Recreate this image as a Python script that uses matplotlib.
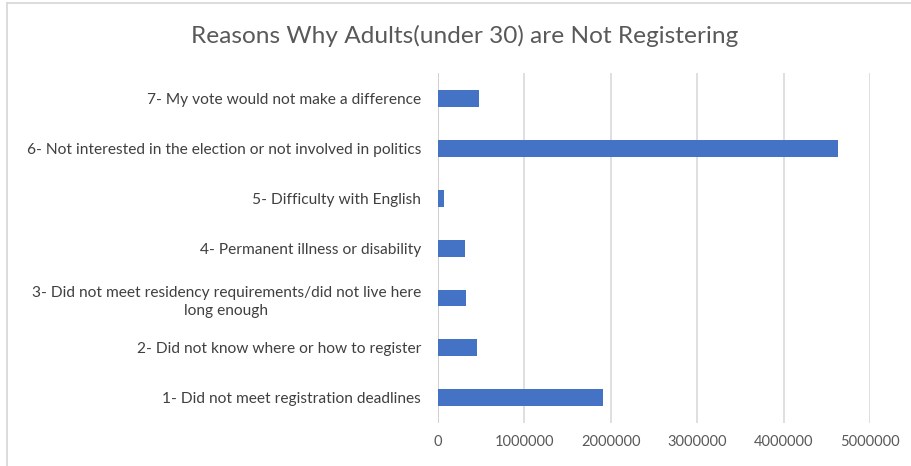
import matplotlib
matplotlib.use("Agg")
import matplotlib.pyplot as plt
from matplotlib.lines import Line2D

plt.rcParams['font.family'] = ['Lato', 'DejaVu Sans']

reasons = [
    "1- Did not meet registration deadlines",
    "2- Did not know where or how to register",
    "3- Did not meet residency requirements/did not live here\nlong enough",
    "4- Permanent illness or disability",
    "5- Difficulty with English",
    "6- Not interested in the election or not involved in politics",
    "7- My vote would not make a difference",
]
counts = [1909000, 450000, 327000, 315000, 76000, 4634000, 480000]
x_ticks = [0, 1000000, 2000000, 3000000, 4000000, 5000000]
title = "Reasons Why Adults(under 30) are Not Registering"

fig = plt.figure(figsize=(9.12, 4.66), dpi=100)
ax = fig.add_axes([0.480, 0.0923, 0.474, 0.7510])

ypos = list(range(len(reasons)))
ax.barh(ypos, counts, height=0.34, color="#4472C4", zorder=3)

ax.set_xlim(0, 5000000)
ax.set_ylim(-0.5, len(reasons) - 0.5)
ax.set_xticks(x_ticks)
ax.set_xticklabels([str(v) for v in x_ticks])
ax.set_yticks(ypos)
ax.set_yticklabels(reasons, multialignment="center", linespacing=1.4)

ax.grid(axis="x", color="#D9D9D9", linewidth=1.2, zorder=0)
for s in ax.spines.values():
    s.set_visible(False)
ax.axvline(0, color="#D0D0D0", linewidth=1.4, zorder=2)

ax.tick_params(axis="y", length=0, pad=12, labelsize=11.2, labelcolor="#404040")
ax.tick_params(axis="x", length=0, pad=9, labelsize=10.5, labelcolor="#595959")

fig.text(0.509, 0.922, title, ha="center", va="center", fontsize=17.6, color="#595959")

# chart frame (top and left edges)
fig.add_artist(Line2D([0.0077, 1.0], [1 - 3 / 466, 1 - 3 / 466], transform=fig.transFigure,
                      color="#D9D9D9", linewidth=1.3))
fig.add_artist(Line2D([0.0077, 0.0077], [0.0, 1 - 3 / 466], transform=fig.transFigure,
                      color="#D9D9D9", linewidth=1.3))

fig.savefig("out.png", dpi=100, facecolor="white")
